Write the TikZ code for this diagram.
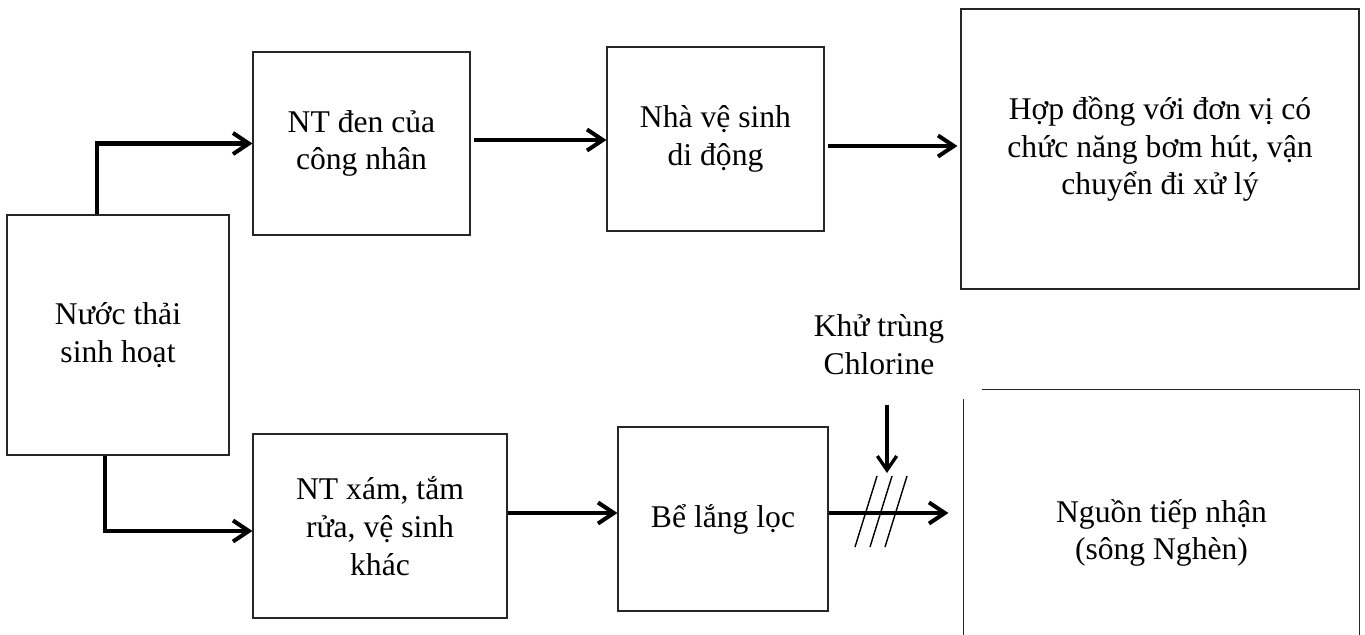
\documentclass[tikz,border=0pt]{standalone}
\usepackage{fontspec}
\setmainfont{Liberation Serif}
\usetikzlibrary{arrows.meta, positioning, calc}
\tikzset{
  stage/.style={
    rectangle, draw=black!85, line width=0.7pt,
    minimum width=#1, minimum height=3.68cm,
    font=\fontsize{18}{21.5}\selectfont,
    text centered, align=center, inner sep=2pt
  },
  stage/.default=4.34cm,
  note/.style={font=\fontsize{18}{21.5}\selectfont, align=center},
  edge/.style={draw=black!85, line width=0.7pt},
  flow/.style={-{Straight Barb[length=9pt, width=12pt]}, line width=2.3pt},
  dose/.style={-{Straight Barb[length=8pt, width=11pt]}, line width=1.9pt},
  hatch/.style={line width=0.8pt}
}
\begin{document}
\begin{tikzpicture}[x=0.02cm, y=-0.02cm]
\useasboundingbox (0,0) rectangle (1365,635);

% ═══════════════════════════════════════════════════════════════════
% SOURCE
% ═══════════════════════════════════════════════════════════════════

\node[stage=4.44cm, minimum height=4.8cm] (src) at (118,335)
  {Nước thải\\sinh hoạt};

% ═══════════════════════════════════════════════════════════════════
% BLACK WATER LINE  (top)
% ═══════════════════════════════════════════════════════════════════

\node[stage=4.34cm, minimum height=3.66cm] (ntden) at (361.5,143.5)
  {NT đen của\\công nhân};

\node[stage=4.34cm] (nhavs) at (715.5,139)
  {Nhà vệ sinh\\di động};

\node[stage=7.96cm, minimum height=5.6cm] (hopdong) at (1160,149)
  {Hợp đồng với đơn vị có\\chức năng bơm hút, vận\\chuyển đi xử lý};

% ═══════════════════════════════════════════════════════════════════
% GREY WATER LINE  (bottom)
% ═══════════════════════════════════════════════════════════════════

\node[stage=5.08cm] (ntxam) at (380,526)
  {NT xám, tắm\\rửa, vệ sinh\\khác};

\node[stage=4.2cm] (be) at (723,519)
  {Bể lắng lọc};

\node[stage=7.9cm, minimum height=5.72cm, draw=none] (recv) at (1161.5,533)
  {Nguồn tiếp nhận\\(sông Nghèn)};

% ── open outline of the receiving box ────────────────────────────
\draw[edge] ([yshift=-0.2cm]recv.north west) -- (recv.south west);
\draw[edge] ([xshift=0.38cm]recv.north west) -- (recv.north east)
  -- (recv.south east);

% ── disinfection ─────────────────────────────────────────────────
\node[note] (khu) at (879,345) {Khử trùng\\Chlorine};
\coordinate (chltop) at (887,405);
\coordinate (chlend) at (887,473);

% ═══════════════════════════════════════════════════════════════════
% FLOWS
% ═══════════════════════════════════════════════════════════════════

% Source split
\draw[flow] ([xshift=-0.42cm]src.north) |- (ntden.west);
\draw[flow] ([xshift=-0.26cm]src.south) |- ([yshift=-0.1cm]ntxam.west);

% Top line
\draw[flow] ([xshift=2pt]ntden.east |- 0,140) -- (nhavs.west |- 0,140);
\draw[flow] ([xshift=2pt]nhavs.east |- 0,146)
  -- ([xshift=-0.06cm]hopdong.west |- 0,146);

% Bottom line
\draw[flow] (ntxam.east |- 0,513) -- (be.west |- 0,513);
\draw[flow] (be.east |- 0,513) -- ([xshift=-0.3cm]recv.west |- 0,513);

% Chlorine dosing
\draw[dose] (chltop) -- (chlend);
\foreach \d in {0,15,30}
  \draw[hatch] (855+\d,547) -- (877+\d,476);

\end{tikzpicture}
\end{document}
